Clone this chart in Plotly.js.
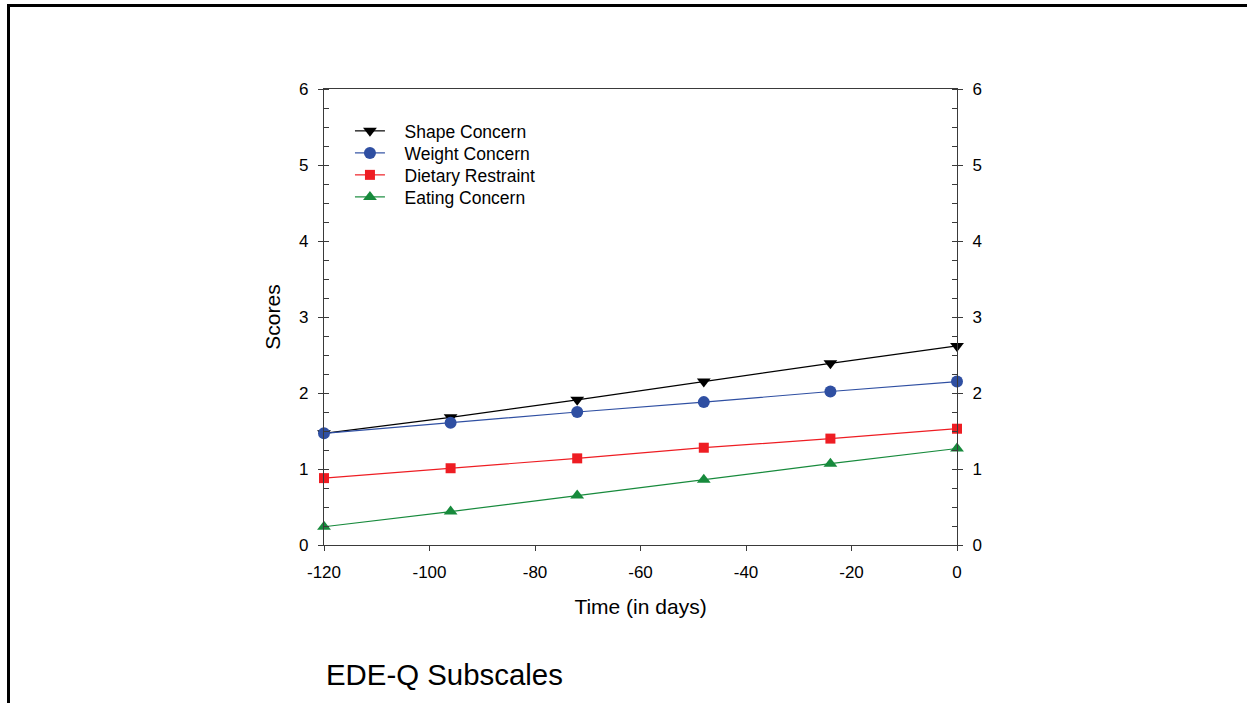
<!DOCTYPE html>
<html>
<head>
<meta charset="utf-8">
<script src="https://cdn.plot.ly/plotly-3.0.1.min.js"></script>
<style>
  html, body { margin: 0; padding: 0; background: #fff; }
  #chart { width: 1247px; height: 703px; }
  #frame { position: absolute; left: 7px; top: 4px; width: 1240px; height: 699px;
           border-top: 3px solid #000; border-left: 3px solid #000; box-sizing: border-box; pointer-events: none; }
</style>
</head>
<body>
<div id="chart"></div>
<div id="frame"></div>
<script>
const days = [-120, -96, -72, -48, -24, 0];
const shapeConcern = [1.47, 1.68, 1.91, 2.15, 2.39, 2.62];
const weightConcern = [1.47, 1.61, 1.75, 1.88, 2.02, 2.15];
const dietaryRestraint = [0.88, 1.01, 1.14, 1.28, 1.40, 1.53];
const eatingConcern = [0.24, 0.44, 0.65, 0.86, 1.07, 1.27];
const xTicks = [-120, -100, -80, -60, -40, -20, 0];
const yTicks = [0, 1, 2, 3, 4, 5, 6];

const font = 'Liberation Sans, Arial, sans-serif';
const gap = '\u00a0\u00a0\u00a0';

function series(name, y, color, symbol, size, legendId) {
  return {
    x: days, y: y, name: gap + name, type: 'scatter', mode: 'lines+markers',
    line: {color: color, width: 1.2},
    marker: {color: color, symbol: symbol, size: size},
    legend: legendId,
    cliponaxis: false
  };
}

const traces = [
  series('Shape Concern', shapeConcern, '#000000', 'triangle-down', 12, 'legend'),
  series('Weight Concern', weightConcern, '#2f4fa2', 'circle', 12, 'legend2'),
  series('Dietary Restraint', dietaryRestraint, '#ee1d23', 'square', 10, 'legend3'),
  series('Eating Concern', eatingConcern, '#178a3c', 'triangle-up', 12, 'legend4'),
  // carrier for the right-hand axis (invisible)
  {x: days, y: shapeConcern, yaxis: 'y2', type: 'scatter', mode: 'lines',
   line: {width: 0}, opacity: 0, showlegend: false, hoverinfo: 'skip'}
];

const axisColor = '#3a3a3a';
const yCommon = {
  range: [0, 6], tickvals: yTicks, ticktext: yTicks.map(String),
  ticks: 'outside', ticklen: 5, tickwidth: 1, tickcolor: axisColor,
  showline: true, linecolor: axisColor, linewidth: 1.2,
  showgrid: false, zeroline: false,
  tickfont: {family: font, size: 17, color: '#000'},
  ticklabelstandoff: 6,
  minor: {dtick: 0.25, ticks: 'inside', ticklen: 5, tickwidth: 1, tickcolor: axisColor, showgrid: false},
  fixedrange: true
};

function legendAt(y) {
  return {
    x: 0.041, y: y, xanchor: 'left', yanchor: 'top',
    bgcolor: 'rgba(0,0,0,0)', font: {family: font, size: 17.5, color: '#000'},
    tracegroupgap: 0, itemwidth: 30
  };
}

const layout = {
  width: 1247, height: 703,
  margin: {l: 324, r: 290, t: 89, b: 158},
  paper_bgcolor: '#fff', plot_bgcolor: '#fff',
  showlegend: true,
  legend: legendAt(0.9474),
  legend2: legendAt(0.8991),
  legend3: legendAt(0.8509),
  legend4: legendAt(0.8026),
  xaxis: {
    range: [-120, 0], tickvals: xTicks, ticktext: xTicks.map(String),
    ticks: 'outside', ticklen: 5, tickwidth: 1, tickcolor: axisColor,
    showline: true, linecolor: axisColor, linewidth: 1.2, mirror: true,
    showgrid: false, zeroline: false,
    tickfont: {family: font, size: 17, color: '#000'},
    ticklabelstandoff: 6,
    title: {text: 'Time (in days)', font: {family: font, size: 21, color: '#000'}, standoff: 18},
    fixedrange: true
  },
  yaxis: Object.assign({}, yCommon, {
    title: {text: 'Scores', font: {family: font, size: 21, color: '#000'}, standoff: 12}
  }),
  yaxis2: Object.assign({}, yCommon, {overlaying: 'y', side: 'right'}),
  annotations: [{
    text: 'EDE-Q Subscales', xref: 'paper', yref: 'paper',
    x: 0.0, y: -0.285, xanchor: 'left', yanchor: 'middle', showarrow: false,
    font: {family: font, size: 29.4, color: '#000'}
  }]
};

Plotly.newPlot('chart', traces, layout, {displayModeBar: false, staticPlot: true});
</script>
</body>
</html>
